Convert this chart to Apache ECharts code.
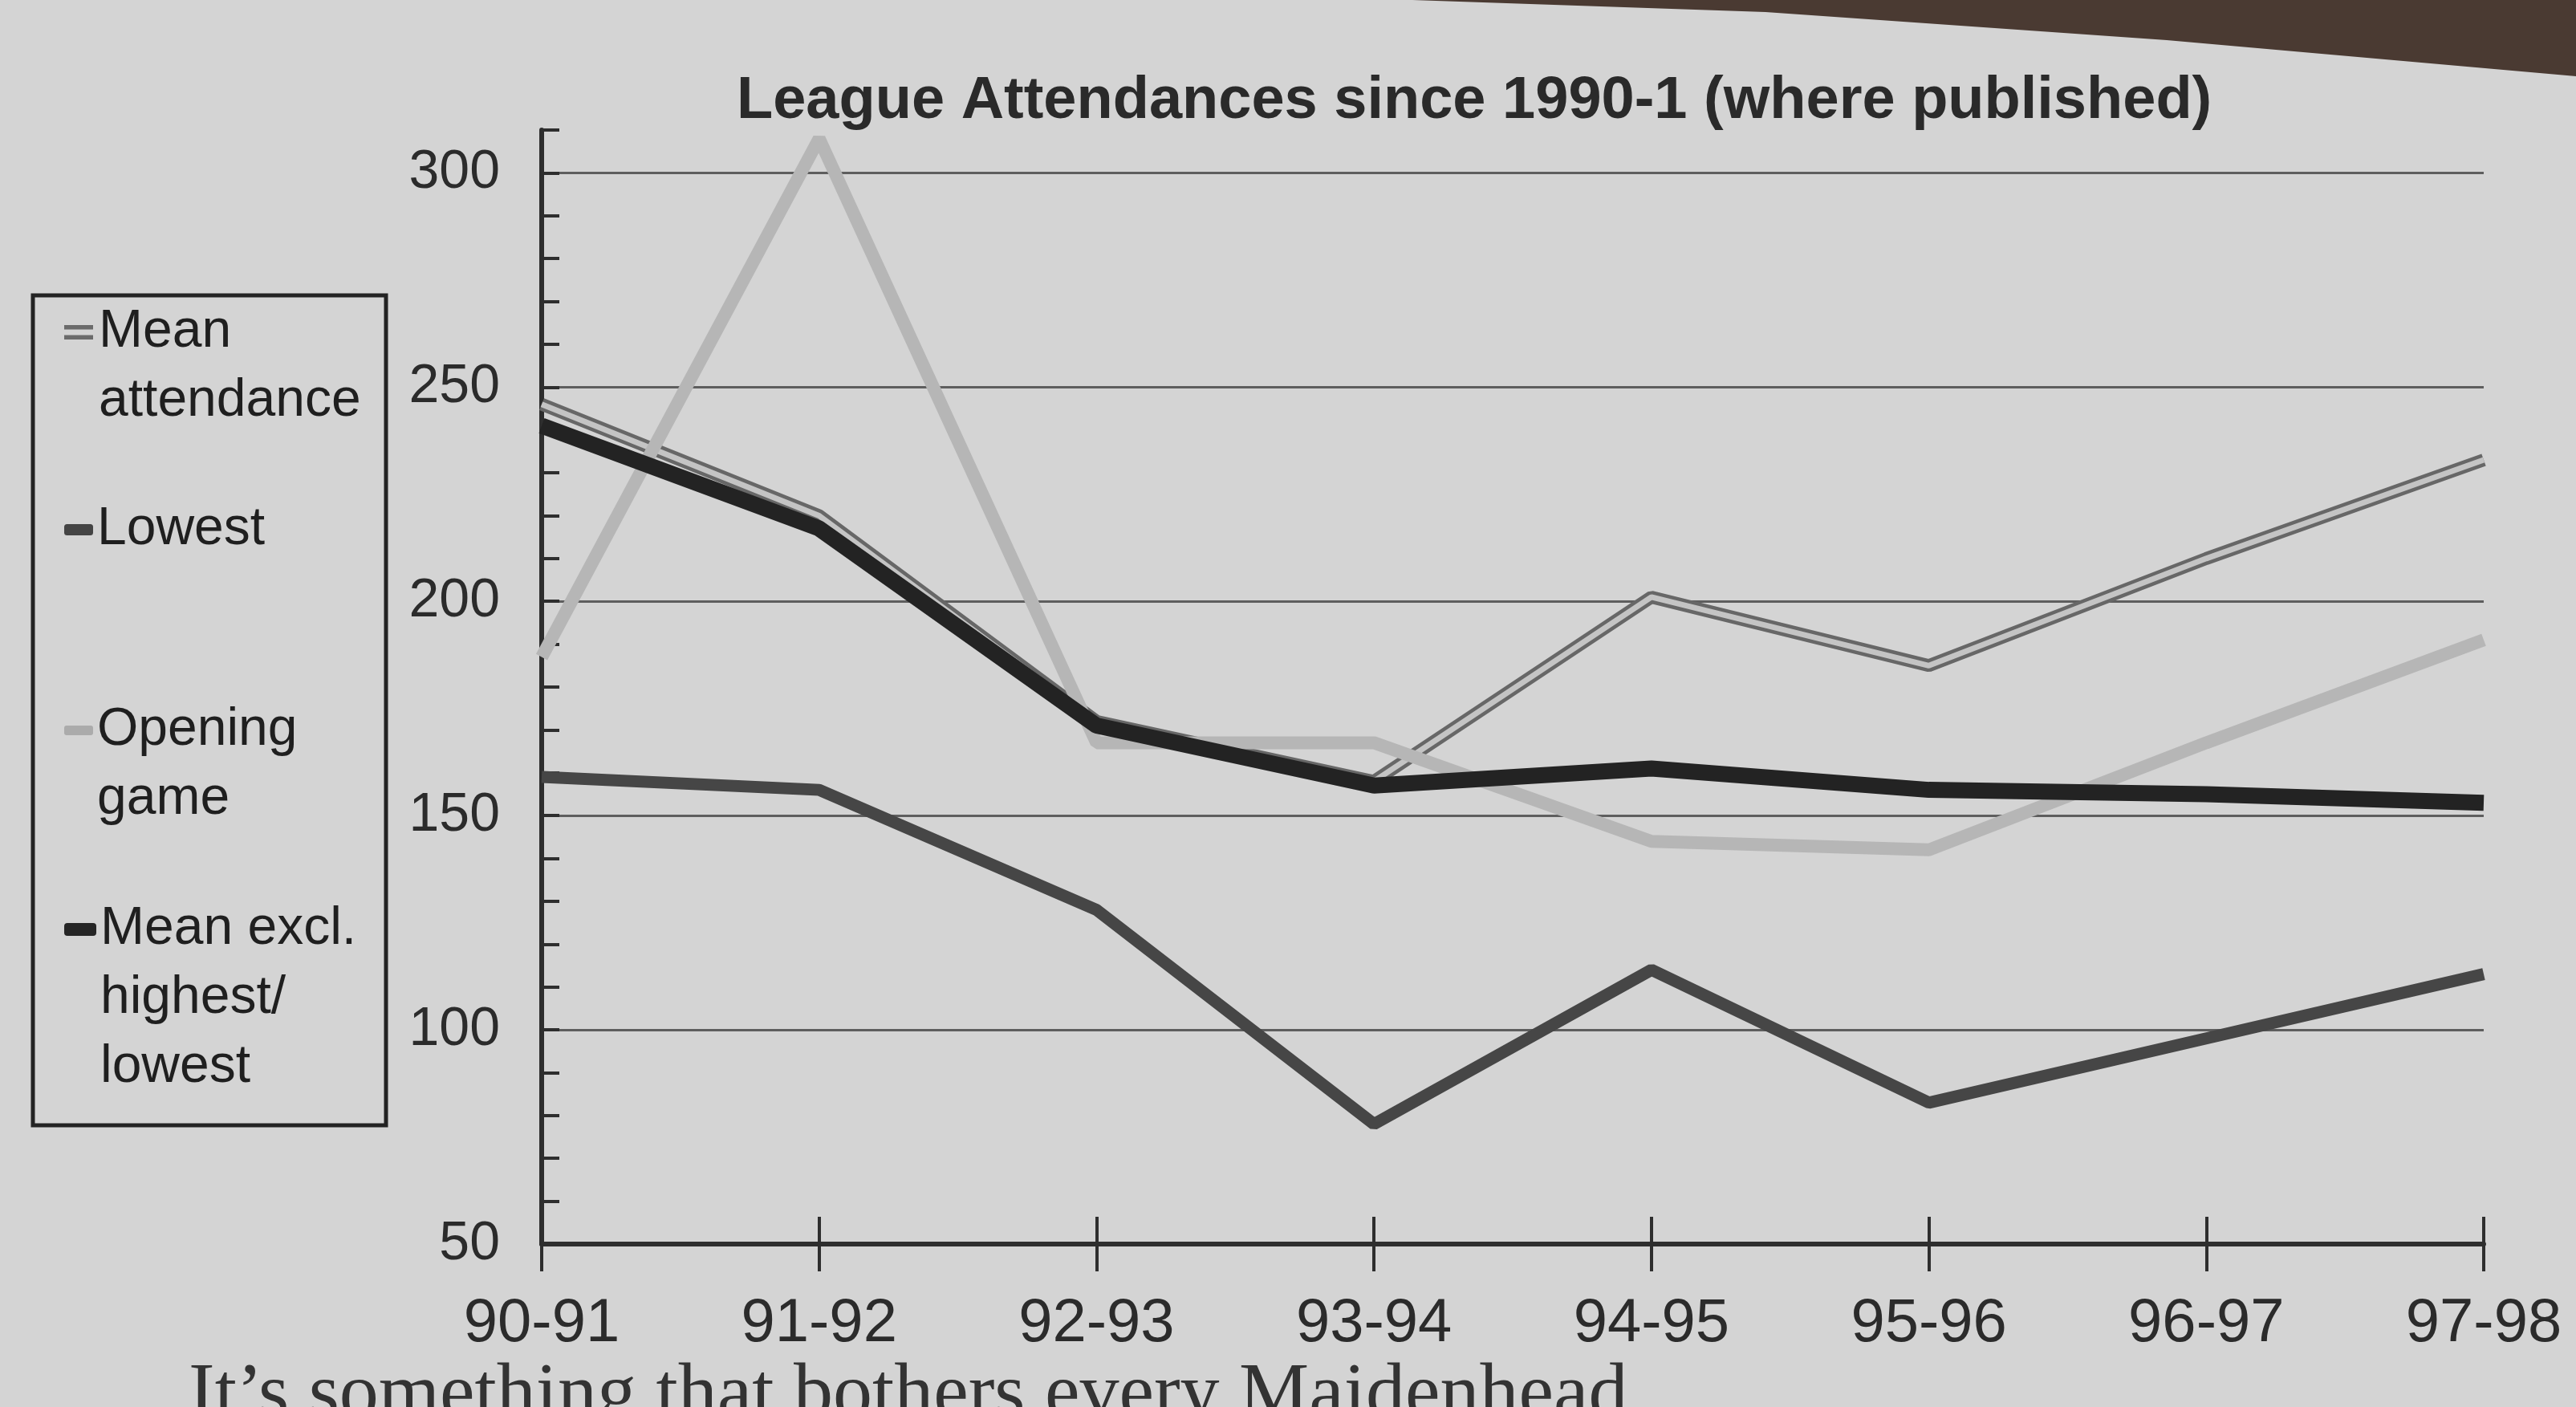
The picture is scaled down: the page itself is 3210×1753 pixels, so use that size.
<!DOCTYPE html>
<html><head><meta charset="utf-8">
<script src="https://cdn.jsdelivr.net/npm/echarts@6/dist/echarts.min.js"></script>
<style>html,body{margin:0;padding:0;background:#d4d4d4}#c{width:3210px;height:1753px}</style>
</head><body><div id="c"></div>
<script>
// ---- data ----
const categories = ['90-91','91-92','92-93','93-94','94-95','95-96','96-97','97-98'];
const meanAttendance = [246, 220, 172, 158, 201, 185, 210, 233];
const lowest        = [159, 156, 128, 78, 114, 83, 98, 113];
const openingGame   = [187, 308, 167, 167, 144, 142, 167, 191];
const meanExcl      = [241, 217, 171, 157, 161, 156, 155, 153];
const yTickLabels   = [50, 100, 150, 200, 250, 300];

const FONT = '"Liberation Sans", Arial, Helvetica, sans-serif';
const chart = echarts.init(document.getElementById('c'), null, {renderer: 'canvas'});

// legend text: first line is centred on the icon (blank lines added above)
function legendBlock(name, lines, centerY, icon, color, iw, ih) {
  const L = 86;
  const n = lines.length;
  const padded = new Array(n - 1).fill(' ').concat(lines);
  const boxH = (2 * n - 1) * L;
  return {
    show: true, orient: 'vertical', left: 80, top: Math.round(centerY - boxH / 2), padding: 0,
    itemWidth: iw, itemHeight: ih, itemGap: 0, selectedMode: false,
    data: [{name: name, icon: icon, itemStyle: {color: color, borderWidth: 0}}],
    formatter: () => padded.join('\n'),
    textStyle: {fontSize: 66, lineHeight: L, color: '#1f1f1f', fontFamily: FONT}
  };
}

const splitColors = ['#5e5e5e', 'rgba(0,0,0,0)', 'rgba(0,0,0,0)', 'rgba(0,0,0,0)', 'rgba(0,0,0,0)'];

const option = {
  backgroundColor: '#d4d4d4',
  animation: false,
  title: {
    text: 'League Attendances since 1990-1 (where published)',
    left: 918, top: 90, padding: 0,
    textStyle: {fontSize: 74, fontWeight: 'bold', color: '#2a2a2a', fontFamily: FONT}
  },
  legend: [
    legendBlock('Mean attendance', ['Mean', 'attendance'], 414, 'path://M0,0H20V3H0Z M0,7H20V10H0Z', '#6b6b6b', 40, 18),
    legendBlock('Lowest', ['Lowest'], 660, 'roundRect', '#444444', 36, 14),
    legendBlock('Opening game', ['Opening', 'game'], 910, 'roundRect', '#ababab', 36, 12),
    legendBlock('Mean excl. highest/lowest', ['Mean excl.', 'highest/', 'lowest'], 1158, 'roundRect', '#252525', 40, 16)
  ],
  grid: {left: 675, right: 115, top: 162, bottom: 203, containLabel: false, outerBoundsMode: 'none'},
  xAxis: [{
    type: 'category', data: categories, boundaryGap: false, position: 'bottom',
    axisLine: {show: true, onZero: false, lineStyle: {color: '#2e2e2e', width: 6}},
    axisTick: {show: true, length: 34, lineStyle: {color: '#2e2e2e', width: 4}},
    axisLabel: {fontSize: 76, color: '#2b2b2b', fontFamily: FONT, margin: 62, interval: 0},
    splitLine: {show: false}
  }, {
    type: 'category', data: categories, boundaryGap: false, position: 'bottom',
    axisLine: {show: false},
    axisTick: {show: true, inside: true, length: 34, lineStyle: {color: '#2e2e2e', width: 4}},
    axisLabel: {show: false},
    splitLine: {show: false}
  }],
  yAxis: {
    type: 'value', min: 50, max: 310, interval: 10,
    axisLine: {show: true, lineStyle: {color: '#2e2e2e', width: 6}},
    axisTick: {show: true, inside: true, length: 22, lineStyle: {color: '#2e2e2e', width: 4}},
    axisLabel: {
      fontSize: 68, color: '#2b2b2b', fontFamily: FONT, margin: 52,
      formatter: v => (yTickLabels.indexOf(v) >= 0 ? String(v) : '')
    },
    splitLine: {show: true, lineStyle: {color: splitColors, width: 3}}
  },
  series: [
    {name: 'Mean attendance', type: 'line', data: meanAttendance, symbol: 'none', z: 2,
     itemStyle: {color: '#676767'}, lineStyle: {color: '#676767', width: 16}},
    {name: 'Mean attendance (inner)', type: 'line', data: meanAttendance, symbol: 'none', z: 2,
     itemStyle: {color: '#c4c4c4'}, lineStyle: {color: '#c4c4c4', width: 7}},
    {name: 'Opening game', type: 'line', data: openingGame, symbol: 'none', z: 2,
     itemStyle: {color: '#b6b6b6'}, lineStyle: {color: '#b6b6b6', width: 16}},
    {name: 'Lowest', type: 'line', data: lowest, symbol: 'none', z: 2,
     itemStyle: {color: '#464646'}, lineStyle: {color: '#464646', width: 15}},
    {name: 'Mean excl. highest/lowest', type: 'line', data: meanExcl, symbol: 'none', z: 2,
     itemStyle: {color: '#232323'}, lineStyle: {color: '#232323', width: 20}}
  ],
  graphic: [
    {type: 'rect', shape: {x: 41, y: 368, width: 440, height: 1034}, style: {fill: 'none', stroke: '#232323', lineWidth: 5}, z: 10},
    {type: 'polygon', shape: {points: [[1760, 0], [3210, 0], [3210, 95], [2700, 50], [2200, 15]]}, style: {fill: '#4a3a32'}, z: 0},
    {type: 'text', x: 235, y: 1690, style: {text: 'It\u2019s something that bothers every Maidenhead', font: '98px "Liberation Serif", "Times New Roman", serif', fill: '#333333', verticalAlign: 'top'}, z: 0}
  ]
};
chart.setOption(option);
</script>
</body></html>
